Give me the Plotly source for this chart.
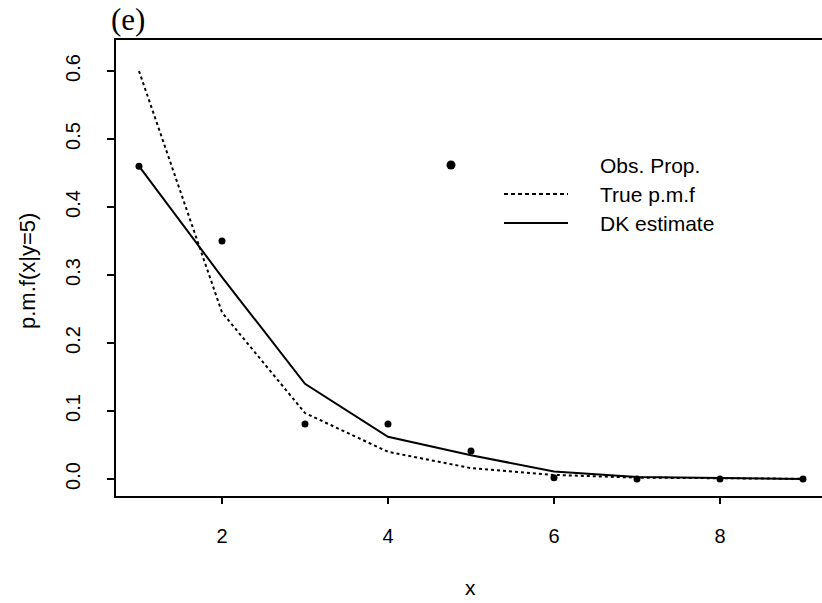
import plotly.graph_objects as go

# Support of the conditional distribution
x_vals = [1, 2, 3, 4, 5, 6, 7, 8, 9]

# Observed proportions
obs_prop = [0.46, 0.35, 0.081, 0.081, 0.041, 0.002, 0.0, 0.0, 0.0]

# True conditional p.m.f.
true_pmf = [0.60, 0.245, 0.097, 0.040, 0.016, 0.006, 0.002, 0.001, 0.0003]

# Discrete-kernel (DK) estimate
dk_est = [0.46, 0.297, 0.140, 0.062, 0.035, 0.011, 0.003, 0.001, 0.0]

legend_labels = ["Obs. Prop.", "True p.m.f", "DK estimate"]

W, H = 822, 603
ML, MR, MT, MB = 116, 0, 40, 107

fig = go.Figure()

fig.add_trace(go.Scatter(
    x=x_vals, y=true_pmf, mode="lines",
    line=dict(color="black", width=2, dash="3px,3px"),
    showlegend=False, hoverinfo="skip"))

fig.add_trace(go.Scatter(
    x=x_vals, y=dk_est, mode="lines",
    line=dict(color="black", width=2),
    showlegend=False, hoverinfo="skip"))

fig.add_trace(go.Scatter(
    x=x_vals, y=obs_prop, mode="markers",
    marker=dict(color="black", size=7),
    showlegend=False, hoverinfo="skip"))

# Hand-built legend in the style of base R graphics
pw = W - ML - MR
ph = H - MT - MB


def px(xp):
    return (xp - ML) / pw


def py(yp):
    return (H - MB - yp) / ph


legend_rows = [165, 194, 223]
shapes = [
    dict(type="circle", xref="paper", yref="paper",
         x0=px(446.5), x1=px(455.5), y0=py(169.5), y1=py(160.5),
         fillcolor="black", line=dict(color="black", width=0)),
    dict(type="line", xref="paper", yref="paper",
         x0=px(504), x1=px(568), y0=py(legend_rows[1]), y1=py(legend_rows[1]),
         line=dict(color="black", width=2, dash="4px,3px")),
    dict(type="line", xref="paper", yref="paper",
         x0=px(504), x1=px(568), y0=py(legend_rows[2]), y1=py(legend_rows[2]),
         line=dict(color="black", width=2)),
]

sans = "Liberation Sans, Arial, sans-serif"

annotations = []
for label, row in zip(legend_labels, legend_rows):
    annotations.append(dict(
        text=label, xref="paper", yref="paper", x=px(598), y=py(row),
        xanchor="left", yanchor="middle", showarrow=False,
        font=dict(family=sans, size=21, color="black")))

annotations.append(dict(
    text="(e)", xref="paper", yref="paper", x=px(109), y=py(19),
    xanchor="left", yanchor="middle", showarrow=False,
    font=dict(family="Liberation Serif, Times New Roman, serif", size=31, color="black")))

annotations.append(dict(
    text="x", xref="paper", yref="paper", x=px(470), y=py(587),
    xanchor="center", yanchor="middle", showarrow=False,
    font=dict(family=sans, size=21, color="black")))

annotations.append(dict(
    text="p.m.f(x|y=5)", xref="paper", yref="paper", x=px(27), y=py(271),
    xanchor="center", yanchor="middle", showarrow=False, textangle=-90,
    font=dict(family=sans, size=22, color="black")))

fig.update_layout(
    width=W, height=H,
    margin=dict(l=ML, r=MR, t=MT, b=MB),
    paper_bgcolor="white", plot_bgcolor="white",
    shapes=shapes, annotations=annotations,
    showlegend=False,
)

tick_font = dict(family=sans, size=20, color="black")

fig.update_xaxes(
    range=[0.723, 9.229], tickvals=[2, 4, 6, 8], ticktext=["2", "4", "6", "8"],
    showgrid=False, zeroline=False,
    showline=True, linecolor="black", linewidth=2, mirror=True,
    ticks="outside", ticklen=6, tickwidth=2, tickcolor="black",
    tickfont=tick_font, ticklabelstandoff=15,
)

fig.update_yaxes(
    range=[-0.025, 0.6456], tickvals=[0, 0.1, 0.2, 0.3, 0.4, 0.5, 0.6],
    ticktext=["0.0", "0.1", "0.2", "0.3", "0.4", "0.5", "0.6"],
    tickangle=-90,
    showgrid=False, zeroline=False,
    showline=True, linecolor="black", linewidth=2, mirror=False,
    ticks="outside", ticklen=7, tickwidth=2, tickcolor="black",
    tickfont=tick_font, ticklabelstandoff=19,
)

fig.write_html("out.html")
